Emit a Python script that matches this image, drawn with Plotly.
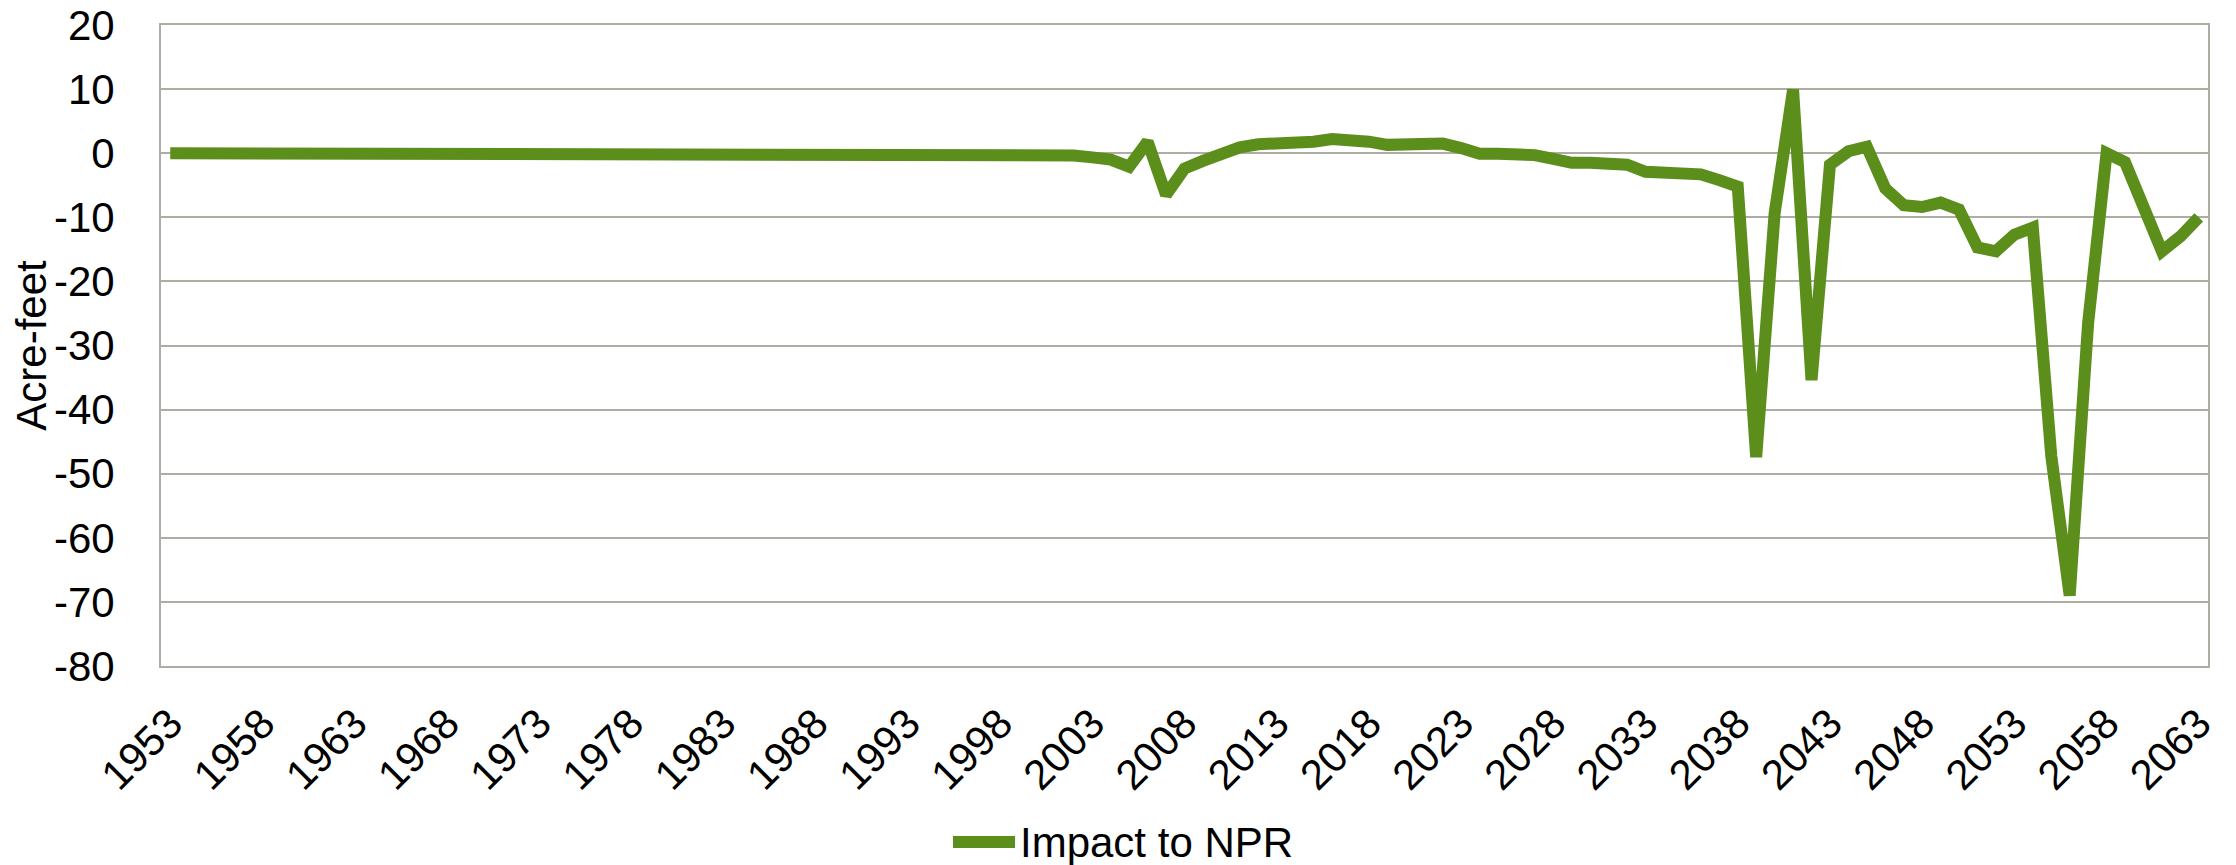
import plotly.graph_objects as go

# yearly impact to NPR (acre-feet)
years = list(range(1953, 2064))
impact = [
    0, 0, 0, 0, 0, 0, 0, 0, 0, 0,          # 1953-1962
    0, 0, 0, 0, 0, 0, 0, 0, 0, 0,          # 1963-1972
    0, 0, 0, 0, 0, 0, 0, 0, 0, 0,          # 1973-1982
    0, 0, 0, 0, 0, 0, 0, 0, 0, 0,          # 1983-1992
    0, 0, 0, 0, 0, 0, 0,                   # 1993-1999
    -0.05, -0.1, -0.35, -0.65, -1.0, -2.1, 1.8, -6.5, -2.4, -1.2,      # 2000-2009
    -0.1, 0.9, 1.4, 1.5, 1.3, 1.8, 2.2, 2.2, 1.8, 1.3,                 # 2010-2019
    1.5, 1.6, 1.5, 0.8, -0.1, -0.1, -0.15, -0.3, -0.9, -1.5,           # 2020-2029
    -1.5, -1.6, -1.8, -2.9, -3.1, -3.0, -3.3, -4.2, -5.2, -47.4,       # 2030-2039
    -9.4, 9.9, -35.4, -1.8, 0.3, 1.0, -5.5, -8.1, -8.4, -7.7,          # 2040-2049
    -8.8, -14.7, -15.3, -12.7, -11.6, -47.2, -69.0, -26.5, 0.0, -1.4,  # 2050-2059
    -8.4, -15.3, -13.0, -10.0,                                         # 2060-2063
]
tick_years = [1953, 1958, 1963, 1968, 1973, 1978, 1983, 1988, 1993, 1998,
              2003, 2008, 2013, 2018, 2023, 2028, 2033, 2038, 2043, 2048,
              2053, 2058, 2063]
y_ticks = [20, 10, 0, -10, -20, -30, -40, -50, -60, -70, -80]
y_labels = ["20", "10", "0", "-10", "-20", "-30", "-40", "-50", "-60", "-70", "-80"]
series_name = "Impact to NPR"

green = "#5b8e1b"
grid = "#aeada3"
font = "Liberation Sans, Arial, sans-serif"

fig = go.Figure()
fig.add_trace(go.Scatter(x=years, y=impact, mode="lines", name=series_name,
                         line=dict(color=green, width=12), showlegend=False))

# legend drawn by hand so the sample line matches the long stroke of the original
fig.add_shape(type="line", xref="paper", yref="paper",
              x0=0.3869, x1=0.4172, y0=-0.2746, y1=-0.2746,
              line=dict(color=green, width=12))
fig.add_annotation(xref="paper", yref="paper", x=0.4187, y=-0.2746,
                   xanchor="left", yanchor="middle", showarrow=False,
                   text=series_name, font=dict(size=42, color="black", family=font))

# page body has an 8px margin, so the figure is sized to fill the rest of the window
fig.update_layout(
    width=2228, height=857,
    margin=dict(l=153, r=28, t=17, b=199),
    paper_bgcolor="white", plot_bgcolor="white",
    font=dict(family=font, size=42, color="black"),
    xaxis=dict(range=[1952.5, 2063.5], tickvals=tick_years,
               ticktext=[str(y) for y in tick_years], tickangle=-45,
               showgrid=False, zeroline=False, ticks="", automargin=False,
               showline=True, linecolor=grid, linewidth=2, mirror=True,
               ticklabelstandoff=14, ticklabeloverflow="allow"),
    yaxis=dict(range=[-80, 20], tickvals=y_ticks, ticktext=y_labels,
               showgrid=True, gridcolor=grid, gridwidth=2,
               zeroline=False, ticks="", automargin=False,
               showline=True, linecolor=grid, linewidth=2, mirror=True,
               ticklabelstandoff=36, ticklabeloverflow="allow",
               title=dict(text="Acre-feet", standoff=10, font=dict(size=42))),
)

fig.write_html("out.html")
